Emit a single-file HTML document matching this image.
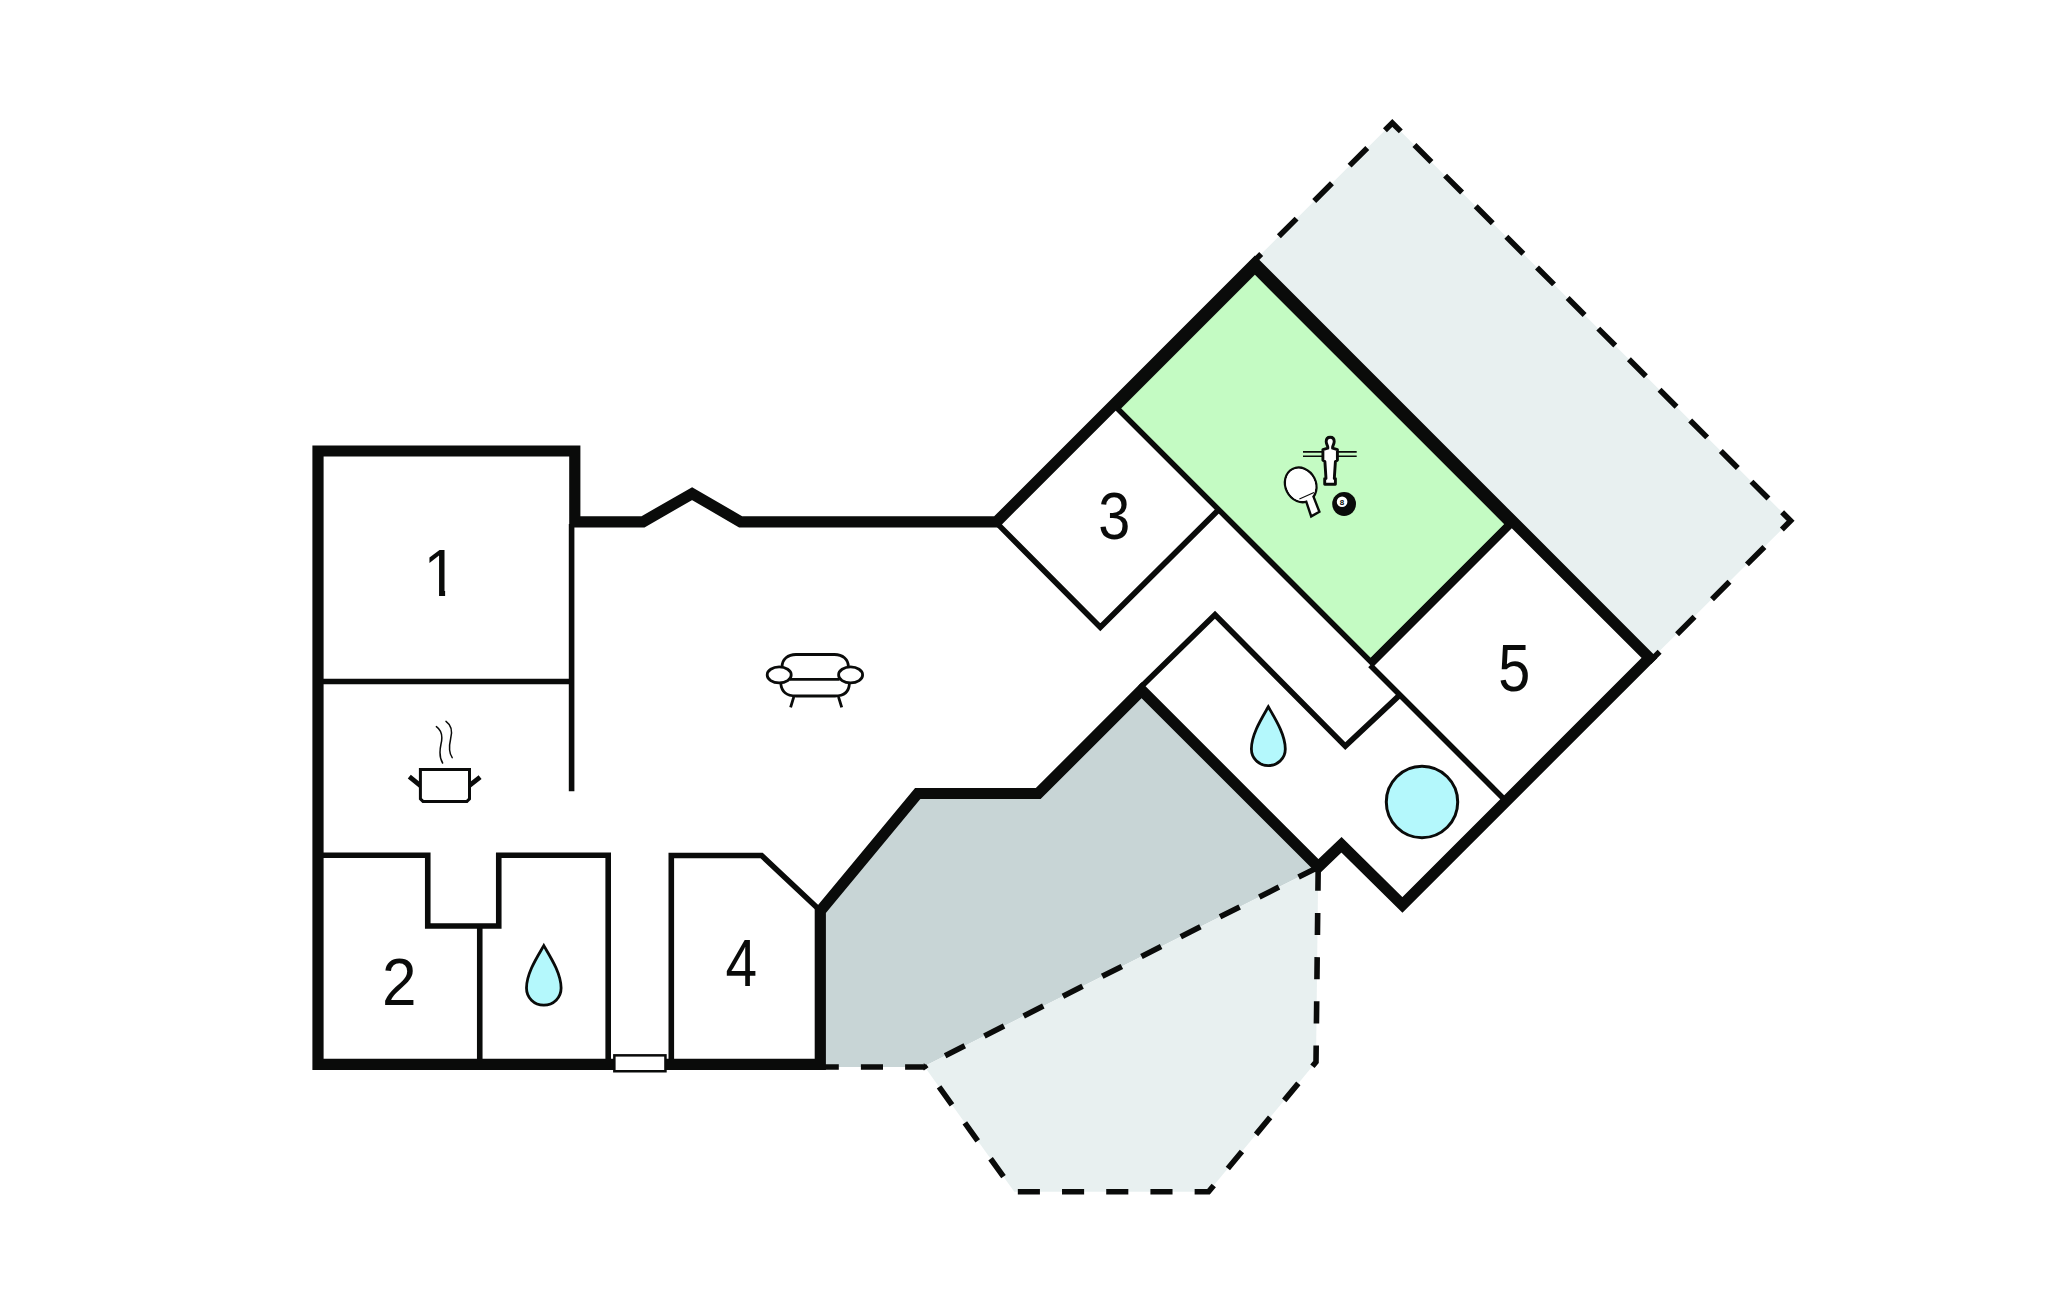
<!DOCTYPE html>
<html lang="en">
<head>
<meta charset="utf-8">
<title>Floor plan</title>
<style>
html,body{margin:0;padding:0;background:#fff;}
body{width:2048px;height:1303px;overflow:hidden;font-family:"Liberation Sans",sans-serif;}
svg{display:block;}
</style>
</head>
<body>
<svg width="2048" height="1303" viewBox="0 0 2048 1303">
<rect width="2048" height="1303" fill="#ffffff"/>
<polygon points="1253.35,261.85 1392.30,122.90 1790.60,520.70 1651.00,659.50" fill="#e8f0f0"/>
<polygon points="820.30,1067.00 820.30,910.90 917.70,793.50 1038.30,793.50 1141.55,690.25 1318.40,866.90 1318.20,867.20 924.80,1066.00 924.80,1067.00" fill="#c8d5d6"/>
<polygon points="924.80,1067.00 924.80,1066.00 1318.20,867.20 1316.00,1062.00 1208.50,1191.80 1014.30,1191.80" fill="#e8f0f0"/>
<polygon points="1254.90,270.90 1508.20,524.20 1370.70,661.70 1117.40,408.40" fill="#c4fbc3" stroke="#0a0b0a" stroke-width="5.5" stroke-linejoin="miter"/>
<polyline points="816.70,1067.00 924.80,1067.00 1014.30,1191.80 1208.50,1191.80 1316.00,1062.00 1318.20,867.20" fill="none" stroke="#0a0b0a" stroke-width="5.6" stroke-linejoin="miter" stroke-miterlimit="10" stroke-dasharray="22.1 22.1"/>
<polyline points="1318.20,867.20 924.80,1066.00" fill="none" stroke="#0a0b0a" stroke-width="5.6" stroke-linejoin="miter" stroke-miterlimit="10" stroke-dasharray="22 22"/>
<polyline points="1384.95,130.25 1392.30,122.90 1400.79,131.38" fill="none" stroke="#0a0b0a" stroke-width="5.6" stroke-linejoin="miter" stroke-miterlimit="10"/>
<polyline points="1782.11,512.22 1790.60,520.70 1781.87,529.43" fill="none" stroke="#0a0b0a" stroke-width="5.6" stroke-linejoin="miter" stroke-miterlimit="10"/>
<polyline points="1392.30,122.90 1250.90,264.30" fill="none" stroke="#0a0b0a" stroke-width="5.6" stroke-linejoin="miter" stroke-miterlimit="10" stroke-dasharray="0 35.4 25 25 25 25 25 25 25 0"/>
<polyline points="1414.45,145.02 1768.45,498.58" fill="none" stroke="#0a0b0a" stroke-width="5.6" stroke-linejoin="miter" stroke-miterlimit="10" stroke-dasharray="24.000 19.302"/>
<polyline points="1764.40,546.90 1649.20,662.10" fill="none" stroke="#0a0b0a" stroke-width="5.6" stroke-linejoin="miter" stroke-miterlimit="10" stroke-dasharray="24.7 24.7"/>
<polyline points="320.00,681.50 571.60,681.50" fill="none" stroke="#0a0b0a" stroke-width="5.60" stroke-linejoin="miter" stroke-miterlimit="10" />
<polyline points="571.60,524.00 571.60,791.25" fill="none" stroke="#0a0b0a" stroke-width="5.60" stroke-linejoin="miter" stroke-miterlimit="10" />
<polyline points="320.00,855.30 427.75,855.30 427.75,926.00 498.75,926.00 498.75,855.30 608.20,855.30 608.20,1062.00" fill="none" stroke="#0a0b0a" stroke-width="5.60" stroke-linejoin="miter" stroke-miterlimit="10" />
<polyline points="479.75,926.00 479.75,1062.00" fill="none" stroke="#0a0b0a" stroke-width="5.60" stroke-linejoin="miter" stroke-miterlimit="10" />
<polyline points="671.30,1062.00 671.30,855.50 761.60,855.50 818.50,909.00" fill="none" stroke="#0a0b0a" stroke-width="5.60" stroke-linejoin="miter" stroke-miterlimit="10" />
<polyline points="996.05,522.35 1100.30,627.20 1218.65,509.65" fill="none" stroke="#0a0b0a" stroke-width="5.60" stroke-linejoin="miter" stroke-miterlimit="10" />
<polyline points="1371.15,663.15 1512.90,521.40" fill="none" stroke="#0a0b0a" stroke-width="8.2"/>
<polyline points="1370.20,665.20 1506.15,801.15" fill="none" stroke="#0a0b0a" stroke-width="5.60" stroke-linejoin="miter" stroke-miterlimit="10" />
<polyline points="1140.40,687.60 1215.00,614.80 1345.30,746.10 1399.90,694.90" fill="none" stroke="#0a0b0a" stroke-width="5.60" stroke-linejoin="miter" stroke-miterlimit="10" />
<polygon points="640.00,1064.30 318.00,1064.30 318.00,451.00 574.80,451.00 574.80,521.80 643.00,521.80 692.10,493.60 740.60,521.80 996.60,521.80 1254.95,263.45 1649.40,657.90 1402.40,904.90 1341.50,844.80 1318.40,866.90 1141.55,690.25 1038.30,793.50 917.70,793.50 820.30,910.90 820.30,1064.30 640.00,1064.30" fill="none" stroke="#0a0b0a" stroke-width="11.20" stroke-linejoin="miter" stroke-miterlimit="10"/>
<rect x="614.35" y="1055.35" width="51.1" height="15.9" fill="#fff" stroke="#0a0b0a" stroke-width="2.5"/>
<!-- sofa -->
<g fill="none" stroke="#0a0b0a" stroke-width="2.8" stroke-linecap="butt">
<path d="M782 667 C782 659 788 654.5 796 654.5 L834.5 654.5 C842.5 654.5 848.4 659 848.4 667"/>
<path d="M790 679.4 L839.5 679.4"/>
<path d="M780.8 683.5 C781.5 692 787 696 796 696 L835 696 C844 696 849 692 849.4 683.5"/>
<ellipse cx="779.2" cy="674.9" rx="12" ry="8" fill="#fff"/>
<ellipse cx="850.6" cy="674.9" rx="12" ry="8" fill="#fff"/>
<path d="M793.8 696.8 L790.6 707.3 M838.5 696.8 L841.7 707.3"/>
</g>
<!-- pot -->
<g fill="none" stroke="#0a0b0a">
<path d="M409.3 776.6 L421 786.2 M480.1 777.2 L469 785.9" stroke-width="4.8" stroke-linecap="butt"/>
<path d="M420.4 769.4 L469.5 769.4 L469.5 798.9 L466.9 801.4 L423 801.4 L420.4 798.9 Z" stroke-width="3" fill="#fff"/>
<path d="M436.4 726.6 C442.5 731 442.5 738 441 744 C439.5 751 439.5 758 442.6 763" stroke-width="1.5" stroke-linecap="round"/>
<path d="M446 721.4 C452.5 726 452.3 733 450.6 739 C449 746 449 753 452.2 757.7" stroke-width="1.5" stroke-linecap="round"/>
</g>
<!-- water drops -->
<path d="M543.8 945.6 C538 955.8 526.5 972.8 526.5 988.1 C526.5 997.8 534 1005.2 543.8 1005.2 C553.6 1005.2 561.1 997.8 561.1 988.1 C561.1 972.8 549.6 955.8 543.8 945.6 Z" fill="#b4f8fc" stroke="#0a0b0a" stroke-width="2.8" stroke-linejoin="miter"/>
<path d="M1268.3 706.8 C1262.5 717 1251.4 734 1251.4 749 C1251.4 758.3 1258.8 765.6 1268.3 765.6 C1277.8 765.6 1285.3 758.3 1285.3 749 C1285.3 734 1274.1 717 1268.3 706.8 Z" fill="#b4f8fc" stroke="#0a0b0a" stroke-width="2.8" stroke-linejoin="miter"/>
<!-- whirlpool circle -->
<circle cx="1422" cy="802" r="35.7" fill="#b4f8fc" stroke="#0a0b0a" stroke-width="3"/>
<!-- foosball -->
<g stroke="#0a0b0a" fill="none">
<path d="M1303 451.9 L1356.7 451.9 M1303 456.2 L1356.7 456.2" stroke-width="1.6"/>
<path d="M1330.2 437.2 C1333 437.2 1334.2 439.2 1334.2 441.6 C1334.2 444 1332.9 445.4 1332.6 447 L1332.6 448.2 L1337.4 449.6 L1337.4 460 L1335.4 461.6 L1334.3 478.6 L1335.4 478.6 L1335.4 484.2 L1324.7 484.2 L1324.7 478.6 L1326 478.6 L1324.9 461.6 L1322.9 460 L1322.9 449.6 L1327.8 448.2 L1327.8 447 C1327.5 445.4 1326.2 444 1326.2 441.6 C1326.2 439.2 1327.4 437.2 1330.2 437.2 Z" fill="#fff" stroke-width="2.9" stroke-linejoin="round"/>
</g>
<!-- paddle -->
<g stroke="#0a0b0a" stroke-width="2.4" fill="#fff">
<ellipse cx="0" cy="0" rx="15.2" ry="17.8" transform="translate(1300.7 484.9) rotate(-27)"/>
<path d="M1303.46 493.3 L1311.2 516.4 L1319.4 511.8 L1310.1 487.9 Z" stroke-linejoin="miter"/>
<ellipse cx="0" cy="0" rx="14" ry="16.6" stroke="none" transform="translate(1300.7 484.9) rotate(-27)"/>
<path d="M1299.4 499 L1314 492.6" stroke-width="1.1" fill="none"/>
</g>
<!-- 8 ball -->
<circle cx="1344.1" cy="504" r="11.9" fill="#0a0b0a"/>
<circle cx="1342.1" cy="501.7" r="5.3" fill="#fff"/>
<text x="1342.1" y="504.5" text-anchor="middle" font-family="'Liberation Sans', sans-serif" font-weight="bold" font-size="8" fill="#0a0b0a">8</text>

<defs><clipPath id="c1"><polygon points="0,-60 23.4,-60 23.4,2 16.8,2 16.8,-5.4 0,-5.4"/></clipPath></defs>
<g transform="translate(423.50 596.00) scale(0.9260 1)"><text x="0" y="0" clip-path="url(#c1)" font-family="'Liberation Sans', sans-serif" font-size="66.8" fill="#0a0b0a">1</text></g>
<g transform="translate(381.90 1005.40) scale(0.9300 1)"><text x="0" y="0"  font-family="'Liberation Sans', sans-serif" font-size="66.8" fill="#0a0b0a">2</text></g>
<g transform="translate(1098.20 538.65) scale(0.8620 1)"><text x="0" y="0"  font-family="'Liberation Sans', sans-serif" font-size="66.8" fill="#0a0b0a">3</text></g>
<g transform="translate(725.50 986.30) scale(0.8495 1)"><text x="0" y="0"  font-family="'Liberation Sans', sans-serif" font-size="66.8" fill="#0a0b0a">4</text></g>
<g transform="translate(1498.30 691.25) scale(0.8620 1)"><text x="0" y="0"  font-family="'Liberation Sans', sans-serif" font-size="66.8" fill="#0a0b0a">5</text></g>
</svg>
</body>
</html>
